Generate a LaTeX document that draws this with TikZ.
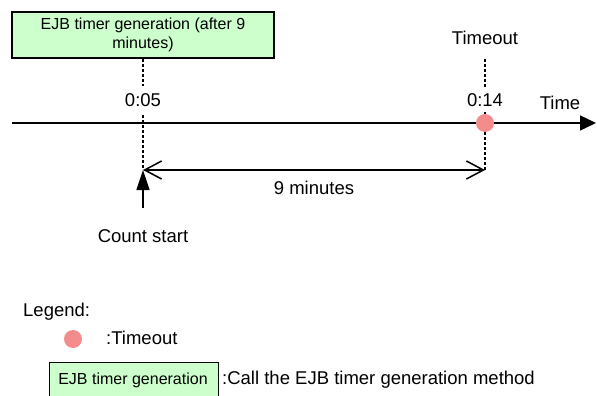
\documentclass[tikz,border=0pt]{standalone}
\usepackage{fontspec}
\setmainfont{Liberation Sans}
\usetikzlibrary{arrows.meta}
\definecolor{boxgreen}{RGB}{204,255,204}
\definecolor{dotpink}{RGB}{245,140,140}
\begin{document}
\begin{tikzpicture}[x=1pt,y=-1pt,
  lbl/.style={inner sep=0pt,font=\fontsize{18.5}{22}\selectfont},
  callbox/.style={draw=black,line width=1.4pt,fill=boxgreen,inner sep=0pt},
  guide/.style={line width=1.2pt,dash pattern=on 3pt off 2pt},
  axis/.style={line width=1.5pt},
  dot/.style={circle,fill=dotpink,draw=none,inner sep=0pt,minimum size=18pt}]
\useasboundingbox (0,0) rectangle (597,396);
\clip (0,0) rectangle (597,396);

% timer generation box
\node[callbox,minimum width=262pt,minimum height=46pt,
      align=center,font=\fontsize{16}{19}\selectfont] (gen) at (143,35)
  {EJB timer generation (after 9\\minutes)};

% time axis
\coordinate (axL) at (12,123);
\coordinate (axR) at (596,123);
\draw[axis,-{Triangle[length=16pt,width=15pt]}] (axL) -- (axR);
\node[lbl] (time) at (560,102.5) {Time};

% start mark at 0:05
\node[lbl] (t05) at (143,100) {0:05};
\coordinate (s1) at (143,170);
\draw[guide] (143,59) -- (143,86);
\draw[guide] (143,115) -- (s1);

% timeout mark at 0:14
\node[lbl] (tout) at (485,38) {Timeout};
\node[lbl] (t14) at (485,100) {0:14};
\coordinate (s2) at (485,170);
\draw[guide] (485,59) -- (485,87);
\draw[guide] (485,112) -- (s2);
\node[dot] (hit) at (485,123) {};

% 9-minute span
\draw[line width=1.5pt,{Straight Barb[length=17pt,width=18pt]}-{Straight Barb[length=17pt,width=18pt]}] (s1) -- (s2);
\node[lbl] (span) at (314,188) {9 minutes};

% count start
\coordinate (cs) at (143,208);
\draw[line width=1.5pt,-{Triangle[length=20pt,width=13pt]}] (cs) -- (s1);
\node[lbl] (cstart) at (143,236) {Count start};

% legend
\node[lbl,anchor=west] (leg) at (23,312) {Legend:};
\node[dot] (legdot) at (73,339) {};
\node[lbl,anchor=west] (legdott) at (106,338) {:Timeout};
\node[callbox,minimum width=169pt,minimum height=44pt,anchor=north west] (legbox) at (49,361.5) {};
\node[inner sep=0pt,font=\fontsize{16}{19}\selectfont] (legboxt) at (133,380) {EJB timer generation};
\node[lbl,anchor=west] (legboxd) at (222,380) {:Call the EJB timer generation method};
\end{tikzpicture}
\end{document}
